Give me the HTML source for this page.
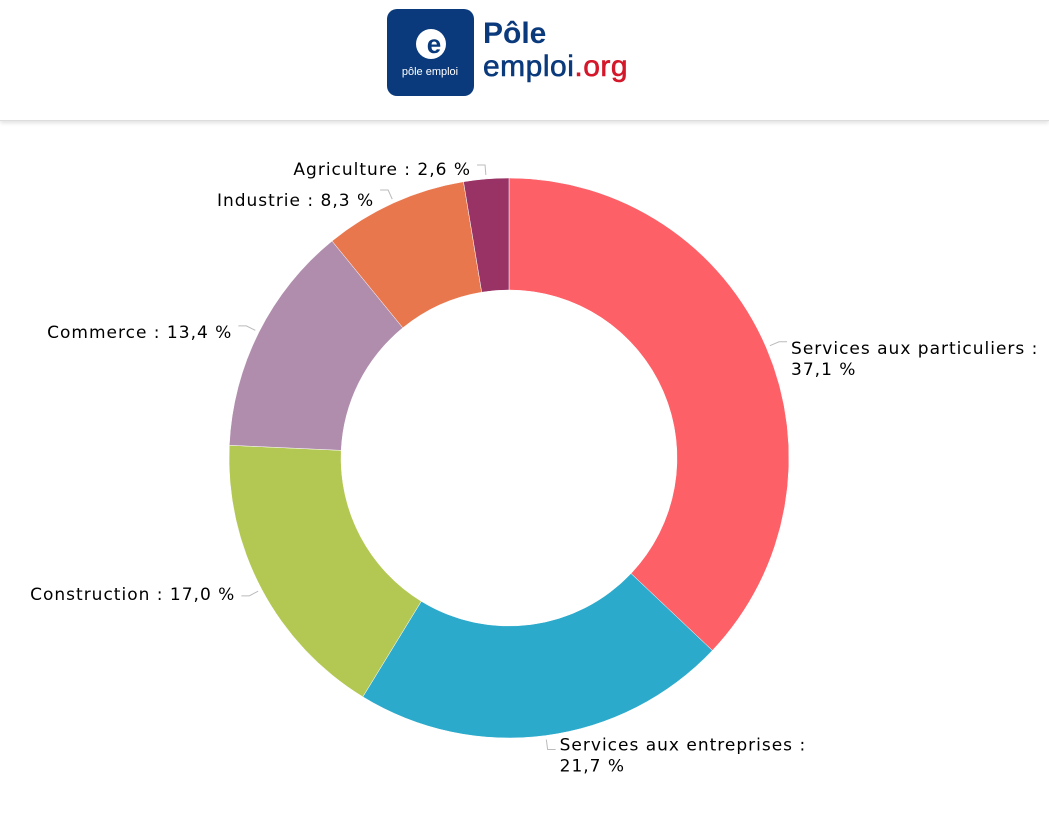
<!DOCTYPE html>
<html><head><meta charset="utf-8"><style>
body{margin:0;width:1049px;height:823px;background:#fff;overflow:hidden;font-family:"DejaVu Sans","Liberation Sans",sans-serif}
#hdr{position:absolute;left:0;top:0;width:1049px;height:120px;background:#fff;border-bottom:1px solid #ddd;box-shadow:0 2px 4px rgba(0,0,0,0.12)}
#chart{position:absolute;left:0;top:0}
</style></head><body>
<div id="hdr">
<svg width="1049" height="120">
<rect x="387" y="9" width="87" height="87" rx="10" fill="#0a3a7c"/>
<circle cx="431" cy="44" r="15" fill="#fff"/>
<text x="434" y="53" font-family="Liberation Sans" font-size="26" font-weight="bold" fill="#0a3a7c" text-anchor="middle">e</text>
<text x="430" y="75" font-family="Liberation Sans" font-size="11" fill="#fff" text-anchor="middle">pôle emploi</text>
<text x="483" y="43" font-family="Liberation Sans" font-size="30" font-weight="bold" fill="#0a3a7c">Pôle</text>
<text x="483" y="76" font-family="Liberation Sans" font-size="30" fill="#0a3a7c" stroke="#0a3a7c" stroke-width="0.6" letter-spacing="0.5">emploi<tspan fill="#d4172a" stroke="#d4172a">.org</tspan></text>
</svg></div>
<svg id="chart" width="1049" height="823" style="top:0"></svg>
<script>
const categories=["Services aux particuliers","Services aux entreprises","Construction","Commerce","Industrie","Agriculture"];
const values=[37.1,21.7,17.0,13.4,8.3,2.6];
const labels=["37,1","21,7","17,0","13,4","8,3","2,6"];
const colors=["#fe6067","#2baacc","#b3c753","#b08dac","#e9774e","#993366"];
const svg=document.getElementById('chart');
const NS="http://www.w3.org/2000/svg";
const cx=509,cy=458,R=280,r=168;
const total=values.reduce((a,b)=>a+b,0);
function pt(a,rad){return [cx+rad*Math.sin(a),cy-rad*Math.cos(a)];}
let acc=0;
values.forEach((v,i)=>{
 const a0=acc/total*2*Math.PI;acc+=v;const a1=acc/total*2*Math.PI;
 const large=(a1-a0)>Math.PI?1:0;
 const p0=pt(a0,R),p1=pt(a1,R),q1=pt(a1,r),q0=pt(a0,r);
 const p=document.createElementNS(NS,'path');
 p.setAttribute('d',`M${p0}A${R},${R} 0 ${large} 1 ${p1}L${q1}A${r},${r} 0 ${large} 0 ${q0}Z`);
 p.setAttribute('fill',colors[i]);p.setAttribute('stroke','#fff');p.setAttribute('stroke-width','0.5');
 
 
 svg.appendChild(p);
 const am=(a0+a1)/2;
 const e=pt(am,R+4),m=pt(am,R+14);
 const right=Math.sin(am)>=0;
 const hx=m[0]+(right?8:-8);
 const l=document.createElementNS(NS,'polyline');
 l.setAttribute('points',`${e} ${m} ${hx},${m[1]}`);
 l.setAttribute('fill','none');l.setAttribute('stroke','#bbb');
 
 
 svg.appendChild(l);
 const t=document.createElementNS(NS,'text');
 t.setAttribute('font-size','17');t.setAttribute('fill','#000');t.setAttribute('letter-spacing','1');
 t.setAttribute('text-anchor',right?'start':'end');
 const tx=hx+(right?4:-6);
 const txt=categories[i]+' : '+labels[i]+' %';
 if(right&&i<2){
  const y0=m[1]+(i==0?12:1);
  const s1=document.createElementNS(NS,'tspan');s1.setAttribute('x',tx);s1.setAttribute('y',y0);s1.textContent=categories[i]+' :';
  const s2=document.createElementNS(NS,'tspan');s2.setAttribute('x',tx);s2.setAttribute('y',y0+21);s2.textContent=labels[i]+' %';
  t.appendChild(s1);t.appendChild(s2);
 }else{t.setAttribute('x',tx);t.setAttribute('y',m[1]+(i==2?4:i==3?12:i==4?16:10));t.textContent=txt;}
 
 
 svg.appendChild(t);
});
</script>
</body></html>
